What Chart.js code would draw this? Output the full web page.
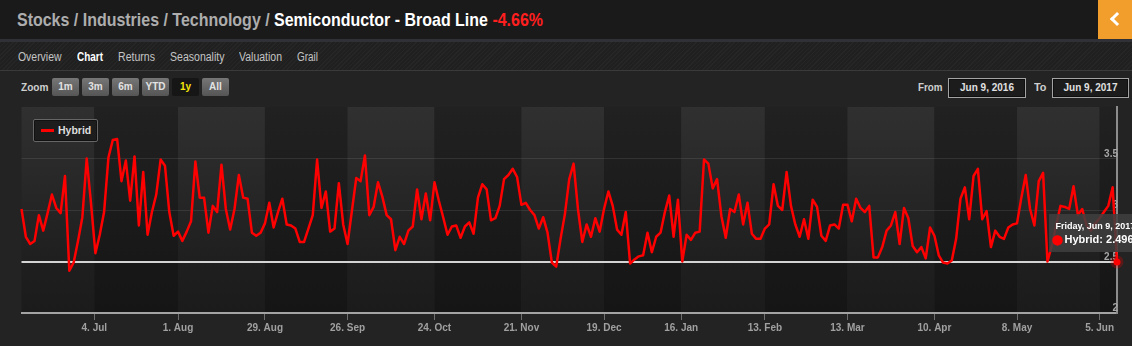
<!DOCTYPE html>
<html>
<head>
<meta charset="utf-8">
<title>Semiconductor - Broad Line</title>
<script src="https://cdn.jsdelivr.net/npm/chart.js@4.4.1/dist/chart.umd.min.js"></script>
<style>
  html, body { margin: 0; padding: 0; }
  body {
    width: 1132px; height: 346px; overflow: hidden; position: relative;
    background: #232323;
    font-family: "Liberation Sans", Arial, Helvetica, sans-serif;
  }
  .abs { position: absolute; white-space: nowrap; }
  #header { left: 0; top: 0; width: 1132px; height: 39px; background: #1a1a1a; }
  #headerRule { left: 0; top: 39px; width: 1132px; height: 3px; background: #303137; }
  #title { left: 17px; top: 9px; font-size: 19px; font-weight: bold; color: #adadad; transform-origin: 0 0; }
  #title .here { color: #fff; }
  #title .chg { color: #ff1f1f; }
  #back { left: 1098px; top: 0; width: 34px; height: 39px; background: #f19e2c; }
  #back::after {
    content: ""; position: absolute; left: 14px; top: 14px; width: 7px; height: 7px;
    border-left: 3px solid #fff; border-bottom: 3px solid #fff; transform: rotate(45deg);
  }
  #tabs {
    left: 0; top: 42px; width: 1132px; height: 28px;
    background: repeating-linear-gradient(135deg, #262626 0px, #262626 1px, #202020 1px, #202020 3px);
  }
  #tabsRule { left: 0; top: 70px; width: 1132px; height: 1px; background: #3a3a3a; }
  .tab { top: 50px; font-size: 12.5px; color: #c4c4c4; transform-origin: 0 0; }
  .tab.on { color: #fff; font-weight: bold; }
  .lbl { font-size: 10.5px; font-weight: bold; color: #cfcfcf; top: 81px; transform-origin: 0 0; }
  .btn {
    top: 78px; width: 27px; height: 18px; line-height: 18px; text-align: center;
    font-size: 10px; font-weight: bold; color: #e2e2e2; border-radius: 2px;
    background: linear-gradient(#767676, #555);
  }
  .btn.on { background: #161616; color: #f4e60a; }
  .date {
    top: 78px; height: 18px; line-height: 18px; text-align: center;
    font-size: 10px; font-weight: bold; color: #e0e0e0;
    background: #1c1c1c; border: 1px solid #a3a3a3; box-shadow: inset 0 0 0 1px #0e0e0e;
  }
  /* the canvas runs past the page edge so the tooltip can be cut off there */
  #hybridChart { position: absolute; left: 0; top: 100px; }
  #legend {
    left: 33px; top: 119px; width: 63px; height: 21px;
    border: 1px solid #666; border-radius: 2px; background: #1d1d1d;
    box-shadow: inset 0 0 0 1px #111;
  }
  #legend .swatch { position: absolute; left: 7px; top: 9px; width: 13px; height: 2.5px; background: #ff0000; }
  #legend .name { position: absolute; left: 24px; top: 4px; font-size: 10.5px; font-weight: bold; color: #dedede; }
</style>
</head>
<body>
<div class="abs" id="header"></div>
<div class="abs" id="headerRule"></div>
<div class="abs" id="title">Stocks / Industries / Technology / <span class="here">Semiconductor - Broad Line</span> <span class="chg">-4.66%</span></div>
<div class="abs" id="back"></div>

<div class="abs" id="tabs"></div>
<div class="abs" id="tabsRule"></div>
<div id="tabRow"></div>

<div class="abs lbl" id="zoomLbl" style="left:21px">Zoom</div>
<div id="zoomRow"></div>
<div class="abs lbl" id="fromLbl" style="left:918px">From</div>
<div class="abs date" id="fromBox" style="left:948px;width:76px"></div>
<div class="abs lbl" id="toLbl" style="left:1034px">To</div>
<div class="abs date" id="toBox" style="left:1052px;width:75px"></div>

<canvas id="hybridChart" width="1160" height="246"></canvas>
<div class="abs" id="legend"><div class="swatch"></div><div class="name">Hybrid</div></div>

<script>
// one value per trading session, Jun 9 2016 .. Jun 9 2017
const hybrid = [
  3.01, 2.74, 2.67, 2.70, 2.95, 2.80, 2.97, 3.15, 3.02, 2.97,
  3.33, 2.41, 2.49, 2.70, 2.93, 3.50, 3.06, 2.58, 2.76, 2.98,
  3.51, 3.68, 3.69, 3.28, 3.48, 3.09, 3.52, 2.85, 3.37, 2.76,
  2.98, 3.15, 3.49, 3.43, 2.98, 2.75, 2.79, 2.70, 2.79, 2.89,
  3.47, 3.12, 3.12, 2.78, 3.04, 2.98, 3.44, 3.01, 2.81, 3.01,
  3.34, 3.12, 3.11, 2.78, 2.75, 2.78, 2.87, 3.07, 2.83, 2.98,
  3.11, 2.86, 2.85, 2.82, 2.69, 2.69, 2.82, 2.95, 3.49, 3.02,
  3.18, 2.79, 2.82, 3.26, 2.86, 2.67, 2.99, 3.31, 3.28, 3.53,
  2.95, 3.03, 3.27, 3.13, 2.95, 2.91, 2.61, 2.74, 2.67, 2.80,
  2.84, 3.20, 2.91, 3.16, 2.90, 3.27, 3.09, 2.93, 2.76, 2.84,
  2.85, 2.73, 2.84, 2.88, 2.77, 3.12, 3.25, 3.20, 2.90, 2.92,
  3.04, 3.30, 3.34, 3.40, 3.32, 3.05, 3.07, 3.00, 2.95, 2.82,
  2.93, 2.78, 2.49, 2.45, 2.72, 2.96, 3.30, 3.45, 3.01, 2.69,
  2.86, 2.74, 2.92, 2.79, 3.01, 3.18, 3.04, 2.81, 2.76, 2.98,
  2.48, 2.52, 2.55, 2.56, 2.78, 2.59, 2.74, 2.78, 2.98, 3.14,
  2.74, 3.10, 2.50, 2.76, 2.71, 2.78, 2.79, 3.49, 3.45, 3.21,
  3.30, 2.94, 2.73, 3.01, 2.98, 3.15, 2.86, 3.07, 2.77, 2.72,
  2.72, 2.82, 2.86, 3.25, 3.04, 3.00, 3.37, 3.04, 2.86, 2.74,
  2.91, 2.72, 3.10, 3.03, 2.75, 2.70, 2.85, 2.86, 2.82, 3.05,
  3.05, 2.89, 3.11, 3.02, 2.98, 3.04, 2.54, 2.54, 2.64, 2.80,
  2.85, 2.98, 2.67, 3.02, 2.92, 2.65, 2.59, 2.64, 2.53, 2.83,
  2.75, 2.56, 2.49, 2.48, 2.51, 2.72, 3.11, 3.22, 2.91, 3.33,
  3.40, 2.91, 2.99, 2.64, 2.80, 2.74, 2.72, 2.83, 2.86, 2.87,
  3.12, 3.34, 3.01, 2.85, 3.28, 3.36, 2.50, 2.65, 2.85, 3.04,
  3.03, 3.01, 3.23, 2.95, 3.01, 2.85, 2.80, 2.87, 2.92, 2.98,
  3.04, 3.22, 2.496
];

// x ticks sit on session numbers (holidays fall between sessions)
const tickIndex = [16.75, 36, 56, 75, 95, 115, 134, 151.75, 171, 190, 210, 229, 248];
const tickLabels = ['4. Jul', '1. Aug', '29. Aug', '26. Sep', '24. Oct', '21. Nov', '19. Dec',
                    '16. Jan', '13. Feb', '13. Mar', '10. Apr', '8. May', '5. Jun'];
const yTicks = [2, 2.5, 3, 3.5, 4];

const tabs = ['Overview', 'Chart', 'Returns', 'Seasonality', 'Valuation', 'Grail'];
const zoomButtons = ['1m', '3m', '6m', 'YTD', '1y', 'All'];
const rangeFrom = 'Jun 9, 2016';
const rangeTo = 'Jun 9, 2017';
const lastSession = 'Friday, Jun 9, 2017';

// page chrome
const tabLeft = [17.5, 76.5, 117.5, 169.5, 239, 297];
const tabWidth = [43.5, 26, 37, 54.5, 43, 21];
const tabRow = document.getElementById('tabRow');
tabs.forEach((t, i) => {
  const el = document.createElement('div');
  el.className = 'abs tab' + (t === 'Chart' ? ' on' : '');
  el.style.left = tabLeft[i] + 'px';
  el.textContent = t;
  tabRow.appendChild(el);
  squeeze(el, tabWidth[i]);
});

const zoomRow = document.getElementById('zoomRow');
zoomButtons.forEach((b, i) => {
  const el = document.createElement('div');
  el.className = 'abs btn' + (b === '1y' ? ' on' : '');
  el.style.left = (52 + i * 30) + 'px';
  el.textContent = b;
  zoomRow.appendChild(el);
});
document.getElementById('fromBox').textContent = rangeFrom;
document.getElementById('toBox').textContent = rangeTo;

function squeeze(el, width) {
  const w = el.getBoundingClientRect().width;
  if (w > 0) el.style.transform = 'scaleX(' + (width / w) + ')';
}
squeeze(document.getElementById('title'), 526);
squeeze(document.getElementById('zoomLbl'), 27.5);
squeeze(document.getElementById('fromLbl'), 24.5);
squeeze(document.getElementById('toLbl'), 12.5);

// alternating month bands with a top-lit gradient
const plotBands = {
  id: 'plotBands',
  beforeDraw(chart) {
    const {ctx, chartArea: a, scales: {x}} = chart;
    const light = ctx.createLinearGradient(0, a.top, 0, a.bottom);
    light.addColorStop(0, '#303030');
    light.addColorStop(0.75, '#1f1f1f');
    light.addColorStop(1, '#1b1b1b');
    const dark = ctx.createLinearGradient(0, a.top, 0, a.bottom);
    dark.addColorStop(0, '#212121');
    dark.addColorStop(1, '#151515');
    const edges = [x.min, ...tickIndex, x.max];
    ctx.save();
    for (let i = 0; i < edges.length - 1; i++) {
      const x0 = x.getPixelForValue(edges[i]);
      const x1 = x.getPixelForValue(edges[i + 1]);
      ctx.fillStyle = i % 2 ? dark : light;
      ctx.fillRect(x0, a.top, x1 - x0, a.bottom - a.top);
    }
    ctx.restore();
  }
};

Chart.defaults.font.family = '"Liberation Sans", Arial, sans-serif';
Chart.Tooltip.positioners.pinned = () => ({x: 1049, y: 114});

const chart = new Chart(document.getElementById('hybridChart').getContext('2d'), {
  type: 'line',
  data: {
    datasets: [{
      label: 'Hybrid',
      data: hybrid.map((v, i) => ({x: i, y: v})),
      borderColor: '#ff0000',
      borderWidth: 2.5,
      borderJoinStyle: 'round',
      tension: 0,
      pointRadius: 0,
      pointHoverRadius: 3.5,
      pointHoverBorderWidth: 6,
      pointHoverBackgroundColor: '#ff0000',
      pointHoverBorderColor: 'rgba(255, 0, 0, 0.25)',
      clip: false
    }]
  },
  options: {
    responsive: false,
    animation: false,
    events: [],
    layout: { padding: { left: 21.5, top: 7, right: 28, bottom: 0 } },
    scales: {
      x: {
        type: 'linear',
        min: 0,
        max: hybrid.length - 1,
        afterBuildTicks: s => { s.ticks = tickIndex.map(v => ({value: v})); },
        afterFit: s => { s.height = 33; },
        grid: { drawOnChartArea: false, drawTicks: true, tickLength: 7, color: '#6e6e6e' },
        border: { color: '#a3a3a3', width: 2 },
        ticks: {
          autoSkip: false, maxRotation: 0, padding: 2,
          color: '#a0a0a0', font: { size: 10, weight: 'bold' },
          callback: (v, i) => tickLabels[i]
        }
      },
      y: {
        position: 'right',
        min: 2,
        max: 4,
        afterBuildTicks: s => { s.ticks = yTicks.map(v => ({value: v})); },
        afterFit: s => { s.width = 15; },
        grid: {
          drawTicks: false,
          color: c => c.tick.value === 2.5 ? '#d4d4d4'
            : (c.tick.value === 3 || c.tick.value === 3.5) ? 'rgba(255, 255, 255, 0.09)' : 'rgba(0, 0, 0, 0)',
          lineWidth: c => c.tick.value === 2.5 ? 2 : 1
        },
        border: { color: '#8c8c8c', width: 2 },
        ticks: {
          mirror: true, padding: 1, labelOffset: -4.5,
          color: '#a6a6a6', font: { size: 10, weight: 'bold' },
          callback: v => v === 4 ? '' : String(v)
        }
      }
    },
    plugins: {
      legend: { display: false },
      tooltip: {
        position: 'pinned',
        xAlign: 'left',
        yAlign: 'top',
        caretSize: 0,
        caretPadding: 0,
        cornerRadius: 0,
        backgroundColor: 'rgba(64, 64, 64, 0.85)',
        borderWidth: 0,
        padding: { top: 7, left: 6.5, right: 8, bottom: 5 },
        titleFont: { size: 9, weight: 'bold' },
        titleColor: '#ffffff',
        titleMarginBottom: 2,
        bodyFont: { size: 11, weight: 'bold' },
        bodyColor: '#ffffff',
        displayColors: true,
        usePointStyle: true,
        boxWidth: 4,
        boxHeight: 4,
        boxPadding: 3,
        multiKeyBackground: '#ff0000',
        callbacks: {
          title: () => lastSession,
          label: c => c.dataset.label + ': ' + c.parsed.y,
          labelColor: () => ({ backgroundColor: '#ff0000', borderColor: '#ff0000' }),
          labelPointStyle: () => ({ pointStyle: 'circle', rotation: 0 })
        }
      }
    }
  },
  plugins: [plotBands]
});

// hover state on the latest session
const last = [{ datasetIndex: 0, index: hybrid.length - 1 }];
chart.setActiveElements(last);
chart.tooltip.setActiveElements(last, { x: 0, y: 0 });
chart.render();
</script>
</body>
</html>
